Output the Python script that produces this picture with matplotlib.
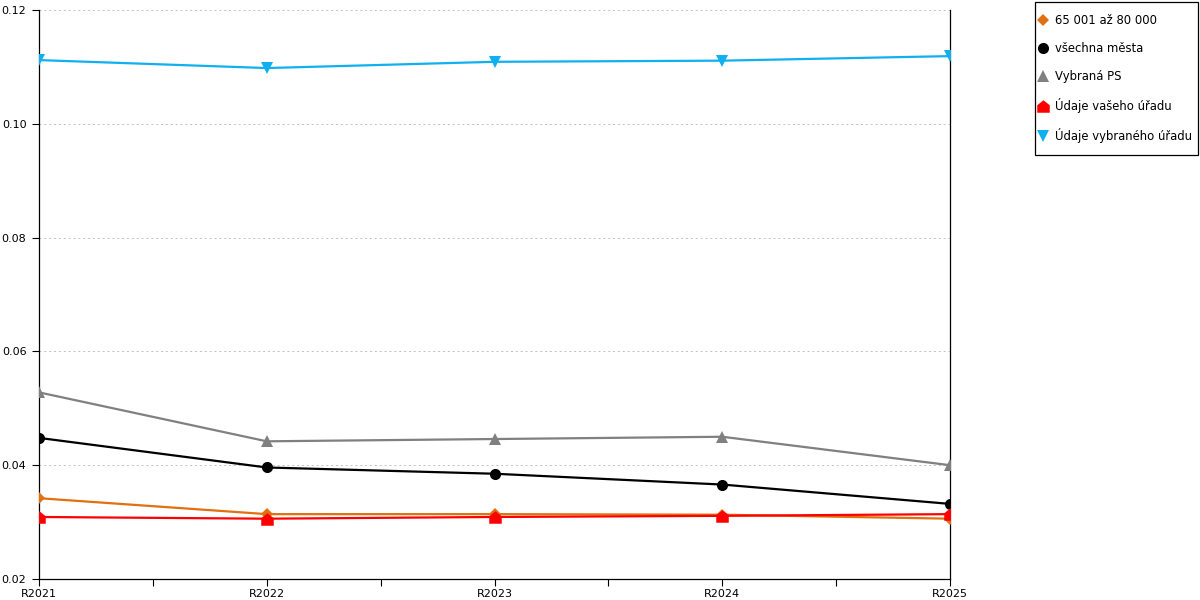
import matplotlib.pyplot as plt
from matplotlib.path import Path
from matplotlib.lines import Line2D
from matplotlib.patches import Rectangle

years = ["R2021", "R2022", "R2023", "R2024", "R2025"]
orange = [0.0342, 0.0314, 0.0314, 0.0313, 0.0306]
vsechna = [0.0448, 0.0396, 0.0385, 0.0366, 0.0332]
vybrana_ps = [0.0528, 0.0442, 0.0446, 0.0450, 0.0400]
vaseho = [0.0309, 0.0306, 0.0309, 0.0311, 0.0314]
vybraneho = [0.1112, 0.1098, 0.1109, 0.1111, 0.1119]

labels = ["65 001 až 80 000", "všechna města", "Vybraná PS",
          "Údaje vašeho úřadu", "Údaje vybraného úřadu"]

house = Path([(-1, -1), (1, -1), (1, 0.2), (0, 1), (-1, 0.2), (-1, -1)],
             [Path.MOVETO, Path.LINETO, Path.LINETO, Path.LINETO, Path.LINETO, Path.CLOSEPOLY])

series = [
    (orange, "#e07010", "D", 6),
    (vsechna, "#000000", "o", 8),
    (vybrana_ps, "#808080", "^", 8),
    (vaseho, "#ff0000", house, 9),
    (vybraneho, "#10b0f0", "v", 8),
]

plt.rcParams['font.family'] = ['DejaVu Sans']
fig = plt.figure(figsize=(12, 6), dpi=100)
ax = fig.add_axes([0.0325, 0.035, 0.7592, 0.9483])

x = list(range(len(years)))
handles = []
for (vals, col, mk, ms), lab in zip(series, labels):
    ax.plot(x, vals, color=col, lw=1.6, marker=mk, markersize=ms,
            markeredgewidth=0, zorder=3)
    handles.append(Line2D([], [], color=col, marker=mk, linestyle="none",
                          markersize=ms, markeredgewidth=0, label=lab))

ax.set_xlim(0, 4)
ax.set_ylim(0.02, 0.12)
ax.set_xticks(x)
ax.set_xticklabels(years)
ax.set_xticks([0.5, 1.5, 2.5, 3.5], minor=True)
ax.set_yticks([0.02, 0.04, 0.06, 0.08, 0.10, 0.12])
ax.set_yticklabels(["0.02", "0.04", "0.06", "0.08", "0.10", "0.12"])
ax.tick_params(axis="both", which="both", length=5, width=0.8, labelsize=8)
ax.tick_params(axis="y", pad=4)
ax.tick_params(axis="x", pad=2)
ax.yaxis.grid(True, linestyle=(0, (2, 3)), color="#c0c0c0", lw=0.7)
ax.spines["top"].set_visible(False)
for s in ["left", "bottom", "right"]:
    ax.spines[s].set_color("black")
    ax.spines[s].set_linewidth(0.9)

# legend box drawn separately, entries placed inside it
fig.patches.append(Rectangle((1035 / 1200, 1 - 155 / 600), 163 / 1200, 153 / 600,
                             transform=fig.transFigure, fill=False,
                             edgecolor="black", linewidth=0.9))
fig.legend(handles=handles, loc="upper left", bbox_to_anchor=(1039.5 / 1200, 1 - 14 / 600),
           frameon=False, fontsize=8.4, labelspacing=1.28, handletextpad=0.73,
           handlelength=0.6, borderpad=0, borderaxespad=0)

fig.savefig("out.png")
